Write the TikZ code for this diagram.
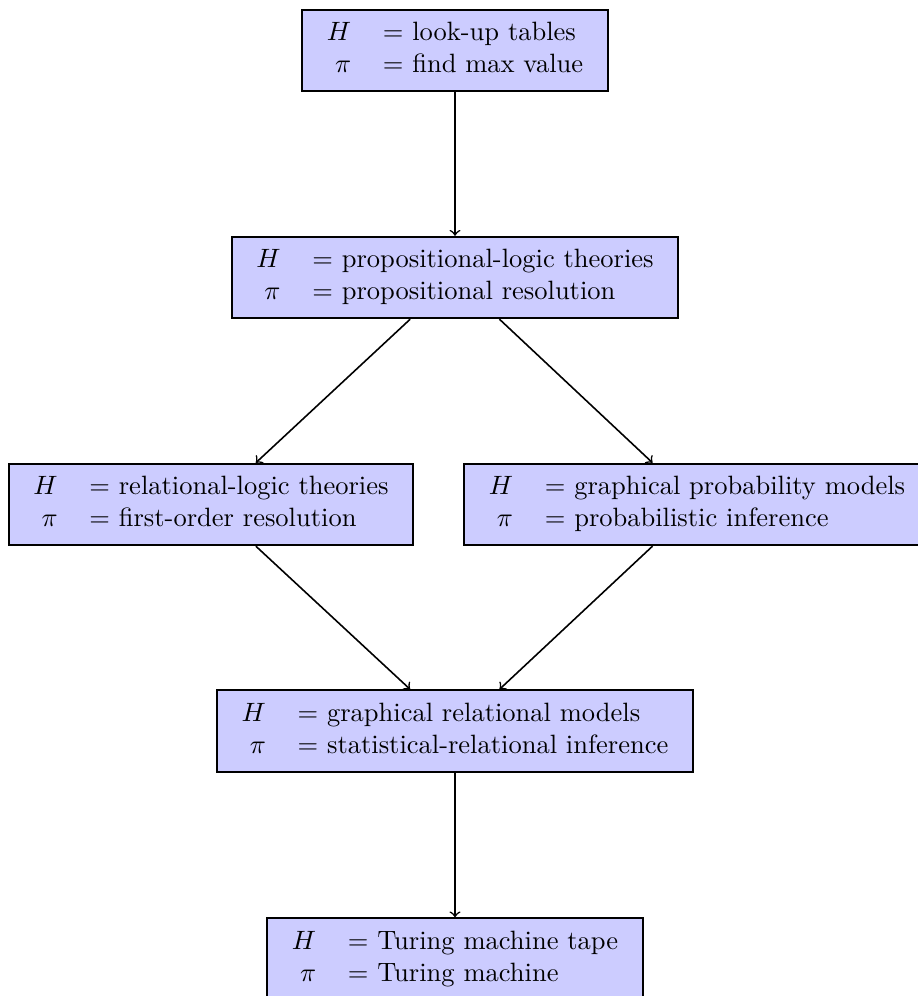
\documentclass[tikz,border=0pt]{standalone}
\usepackage{amsmath}
\tikzset{
  hbox/.style={draw=black, thick, fill=blue!20, inner sep=0.3333em, align=left},
  conn/.style={->, semithick}
}
\newcommand{\hp}[2]{\begin{tabular}{rl}$H$ & $=$ #1\\ $\pi$ & $=$ #2\end{tabular}}
\begin{document}
\begin{tikzpicture}[x=0.37736pt, y=-0.37736pt]
\useasboundingbox (0,0) rectangle (917,996);
\node[hbox] (b1) at (455,50.5) {\hp{look-up tables}{find max value}};
\node[hbox] (b2) at (455,277.5) {\hp{propositional-logic theories}{propositional resolution}};
\node[hbox] (b3) at (211,504.5) {\hp{relational-logic theories}{first-order resolution}};
\node[hbox] (b4) at (697,504.5) {\hp{graphical probability models}{probabilistic inference}};
\node[hbox] (b5) at (455,731) {\hp{graphical relational models}{statistical-relational inference}};
\node[hbox] (b6) at (455,959) {\hp{Turing machine tape}{Turing machine}};
\draw[conn] (b1) -- (b2);
\draw[conn] (b2) -- (b3);
\draw[conn] (b2) -- (b4);
\draw[conn] (b3) -- (b5);
\draw[conn] (b4) -- (b5);
\draw[conn] (b5) -- (b6);
\end{tikzpicture}
\end{document}
